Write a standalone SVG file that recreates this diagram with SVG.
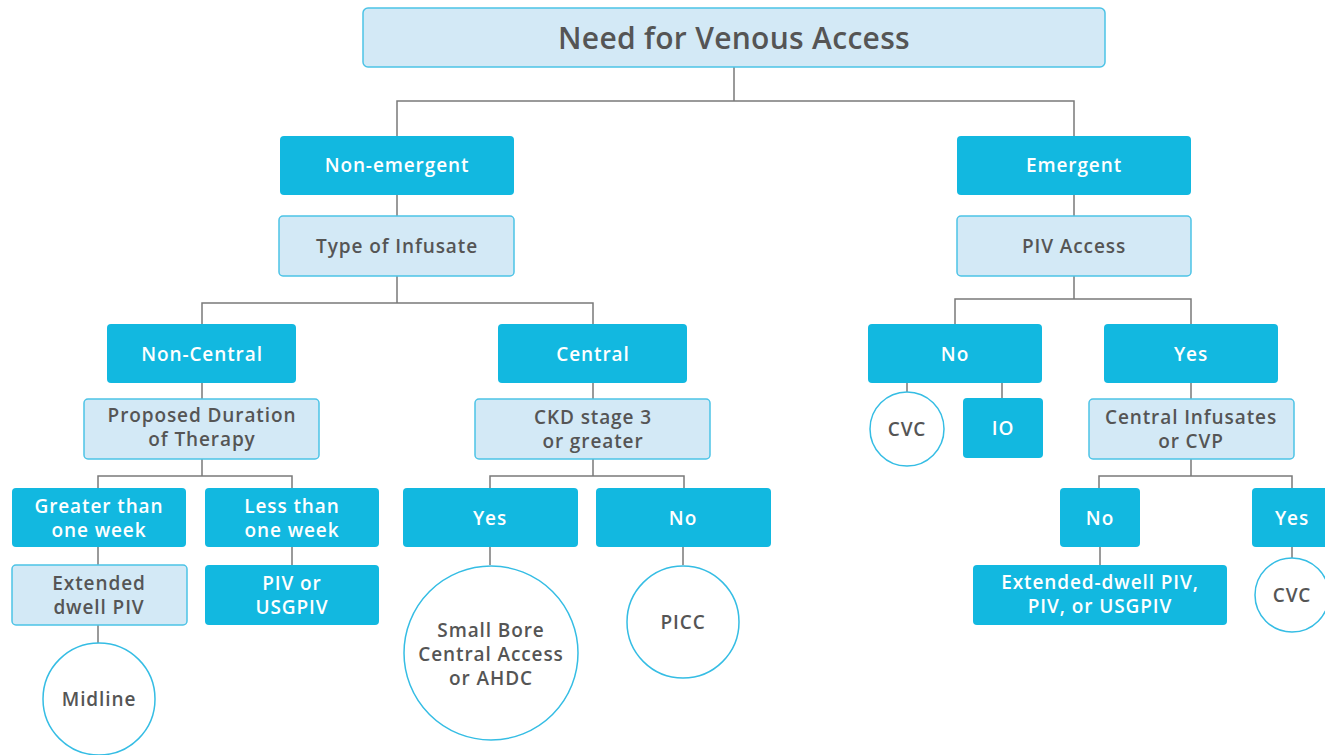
<svg xmlns="http://www.w3.org/2000/svg" width="1325" height="755" viewBox="0 0 1325 755">
<style>
.dark{fill:#12b8e0;stroke:none}
.light{fill:#d3e9f6;stroke:#4cc3e6;stroke-width:1.5}
.circ{fill:#fff;stroke:#35bde4;stroke-width:1.5}
text{font-family:"Open Sans","Noto Sans",sans-serif;font-weight:600;font-size:19px;text-anchor:middle;letter-spacing:0.9px}
.w{fill:#fff}
.g{fill:#555}
.conn{fill:none;stroke:#7a7a7a;stroke-width:1.5}
</style>
<rect width="1325" height="755" fill="#fff"/>
<g id="connectors" class="conn">
<path d="M734 67V101M397 136V101H1074V136"/>
<path d="M397 195V216M397 276V303M202 324V303H593V324"/>
<path d="M1074 195V216M1074 276V299M955 324V299H1191V324"/>
<path d="M202 383V399M202 459V476M98 488V476H292V488"/>
<path d="M98 547V565M292 547V565M98 625V643"/>
<path d="M593 383V399M593 459V476M490 488V476H684V488"/>
<path d="M490 547V565M683 547V565"/>
<path d="M907 383V392M1002 383V398"/>
<path d="M1191 383V399M1191 459V476M1099 488V476H1292V488"/>
<path d="M1100 547V565M1292 547V558"/>
</g>
<g id="root"><rect class="light" x="363" y="8" width="742" height="59" rx="5"/><text class="g" x="734" y="49" style="font-size:30px;letter-spacing:0.3px">Need for Venous Access</text></g>
<g id="nonemergent"><rect class="dark" x="280" y="136" width="234" height="59" rx="4"/><text class="w" x="397" y="172">Non-emergent</text></g>
<g id="typeinfusate"><rect class="light" x="279" y="216" width="235" height="60" rx="4"/><text class="g" x="397" y="253">Type of Infusate</text></g>
<g id="emergent"><rect class="dark" x="957" y="136" width="234" height="59" rx="4"/><text class="w" x="1074" y="172">Emergent</text></g>
<g id="pivaccess"><rect class="light" x="957" y="216" width="234" height="60" rx="4"/><text class="g" x="1074" y="253">PIV Access</text></g>
<g id="noncentral"><rect class="dark" x="107" y="324" width="189" height="59" rx="4"/><text class="w" x="202" y="361">Non-Central</text></g>
<g id="central"><rect class="dark" x="498" y="324" width="189" height="59" rx="4"/><text class="w" x="593" y="361">Central</text></g>
<g id="pivno"><rect class="dark" x="868" y="324" width="174" height="59" rx="4"/><text class="w" x="955" y="361">No</text></g>
<g id="pivyes"><rect class="dark" x="1104" y="324" width="174" height="59" rx="4"/><text class="w" x="1191" y="361">Yes</text></g>
<g id="duration"><rect class="light" x="84" y="399" width="235" height="60" rx="4"/><text class="g" x="202" y="422">Proposed Duration</text><text class="g" x="202" y="446">of Therapy</text></g>
<g id="ckd"><rect class="light" x="475" y="399" width="235" height="60" rx="4"/><text class="g" x="593" y="424">CKD stage 3</text><text class="g" x="593" y="448">or greater</text></g>
<g id="cvc1"><circle class="circ" cx="907" cy="429" r="37"/><text class="g" x="907" y="436">CVC</text></g>
<g id="io"><rect class="dark" x="963" y="398" width="80" height="60" rx="4"/><text class="w" x="1003" y="435">IO</text></g>
<g id="centralinf"><rect class="light" x="1089" y="399" width="205" height="60" rx="4"/><text class="g" x="1191" y="424">Central Infusates</text><text class="g" x="1191" y="448">or CVP</text></g>
<g id="greater"><rect class="dark" x="12" y="488" width="174" height="59" rx="4"/><text class="w" x="99" y="513">Greater than</text><text class="w" x="99" y="537">one week</text></g>
<g id="less"><rect class="dark" x="205" y="488" width="174" height="59" rx="4"/><text class="w" x="292" y="513">Less than</text><text class="w" x="292" y="537">one week</text></g>
<g id="ckdyes"><rect class="dark" x="403" y="488" width="175" height="59" rx="4"/><text class="w" x="490" y="525">Yes</text></g>
<g id="ckdno"><rect class="dark" x="596" y="488" width="175" height="59" rx="4"/><text class="w" x="683" y="525">No</text></g>
<g id="cino"><rect class="dark" x="1060" y="488" width="80" height="59" rx="4"/><text class="w" x="1100" y="525">No</text></g>
<g id="ciyes"><rect class="dark" x="1252" y="488" width="80" height="59" rx="4"/><text class="w" x="1292" y="525">Yes</text></g>
<g id="extdwell"><rect class="light" x="12" y="565" width="175" height="60" rx="4"/><text class="g" x="99" y="590">Extended</text><text class="g" x="99" y="614">dwell PIV</text></g>
<g id="pivusg"><rect class="dark" x="205" y="565" width="174" height="60" rx="4"/><text class="w" x="292" y="590">PIV or</text><text class="w" x="292" y="614">USGPIV</text></g>
<g id="extdwell2"><rect class="dark" x="973" y="565" width="254" height="60" rx="4"/><text class="w" x="1100" y="589">Extended-dwell PIV,</text><text class="w" x="1100" y="613">PIV, or USGPIV</text></g>
<g id="cvc2"><circle class="circ" cx="1292" cy="595" r="37"/><text class="g" x="1292" y="602">CVC</text></g>
<g id="midline"><circle class="circ" cx="99" cy="699" r="56"/><text class="g" x="99" y="706">Midline</text></g>
<g id="smallbore"><circle class="circ" cx="491" cy="653" r="87"/><text class="g" x="491" y="637">Small Bore</text><text class="g" x="491" y="661">Central Access</text><text class="g" x="491" y="685">or AHDC</text></g>
<g id="picc"><circle class="circ" cx="683" cy="622" r="56"/><text class="g" x="683" y="629">PICC</text></g>
</svg>
